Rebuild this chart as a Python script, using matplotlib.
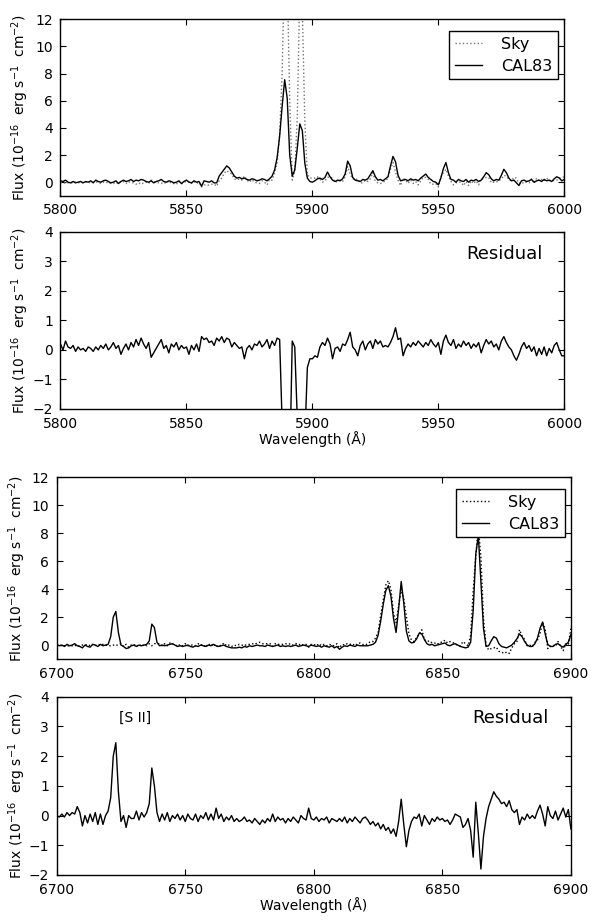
import numpy as np
import matplotlib.pyplot as plt

plt.rcParams['font.family'] = ['DejaVu Sans']
plt.rcParams['mathtext.fontset'] = 'dejavusans'

# wavelength grids (1 A sampling)
wl_na = np.arange(5800, 6001)
wl_s2 = np.arange(6700, 6901)

# Na D region, 5800-6000 A (1e-16 erg/s/cm2)
cal83_na = [
    0.10, 0.05, 0.15, 0.00, -0.05, 0.05, -0.05, 0.00, 0.05, -0.05,
    0.05, 0.00, 0.10, -0.05, 0.15, 0.05, 0.00, 0.10, 0.15, 0.05,
    -0.05, 0.00, 0.10, -0.10, 0.05, 0.15, 0.05, 0.10, 0.20, 0.05,
    0.15, 0.10, 0.20, 0.15, 0.05, 0.00, 0.10, -0.05, 0.05, 0.10,
    0.20, 0.05, 0.00, 0.10, 0.05, -0.05, 0.00, 0.10, -0.10, 0.05,
    0.15, 0.00, -0.05, 0.10, 0.00, 0.05, -0.30, 0.10, 0.05, 0.00,
    0.10, -0.05, -0.05, 0.45, 0.70, 0.95, 1.20, 1.05, 0.75, 0.45,
    0.30, 0.35, 0.25, 0.30, 0.20, 0.15, 0.25, 0.20, 0.10, 0.15,
    0.25, 0.20, 0.10, 0.25, 0.45, 0.90, 1.80, 3.40, 5.60, 7.55,
    6.20, 2.00, 0.45, 0.90, 2.50, 4.30, 3.80, 1.40, 0.30, 0.05,
    0.00, 0.10, 0.25, 0.30, 0.20, 0.35, 0.75, 0.40, 0.15, 0.05,
    0.15, 0.10, 0.25, 0.60, 1.55, 1.20, 0.35, 0.15, 0.10, 0.05,
    0.20, 0.15, 0.25, 0.55, 0.85, 0.40, 0.15, 0.20, 0.10, 0.25,
    0.40, 1.20, 1.90, 1.50, 0.50, 0.10, 0.15, 0.20, 0.10, 0.25,
    0.15, 0.20, 0.10, 0.30, 0.45, 0.60, 0.35, 0.20, 0.05, 0.00,
    -0.20, 0.30, 1.00, 1.45, 0.70, 0.20, 0.15, 0.00, 0.20, 0.10,
    0.05, 0.20, 0.00, 0.15, 0.10, 0.20, 0.05, 0.15, 0.40, 0.70,
    0.55, 0.25, 0.10, 0.20, 0.15, 0.50, 0.95, 0.70, 0.30, 0.10,
    0.15, -0.05, -0.25, 0.10, 0.15, 0.05, 0.10, 0.20, 0.00, 0.10,
    0.15, 0.05, 0.20, 0.10, 0.15, 0.05, 0.25, 0.40, 0.30, 0.10,
    0.20,
]
sky_na = [
    -0.05, 0.00, -0.10, -0.05, -0.05, -0.05, 0.00, -0.05, 0.00, -0.05,
    0.00, -0.05, 0.00, 0.00, 0.00, 0.00, -0.10, 0.00, -0.05, 0.00,
    -0.10, -0.10, 0.00, -0.10, 0.05, 0.05, -0.10, 0.05, -0.05, -0.05,
    -0.15, -0.05, -0.15, -0.05, 0.00, -0.10, 0.15, 0.05, 0.00, -0.05,
    -0.10, 0.00, -0.10, 0.10, -0.10, -0.10, -0.15, 0.05, -0.15, 0.00,
    0.05, 0.05, -0.10, 0.05, -0.10, 0.00, -0.35, -0.20, -0.25, -0.20,
    -0.15, -0.15, -0.30, 0.10, 0.30, 0.65, 0.85, 0.70, 0.60, 0.25,
    0.15, 0.25, 0.15, 0.45, 0.15, 0.00, 0.20, 0.00, -0.05, -0.10,
    0.10, 0.00, -0.20, 0.20, 0.15, 0.70, 1.40, 3.50, 8.10, 16.50,
    15.20, 6.00, 0.15, 0.80, 4.80, 14.30, 12.80, 4.40, 0.60, 0.30,
    0.30, 0.30, 0.40, 0.20, 0.00, 0.10, 0.35, 0.40, 0.30, 0.00,
    0.05, 0.15, 0.05, 0.40, 1.15, 0.60, 0.25, 0.15, 0.25, -0.05,
    -0.05, 0.15, 0.05, 0.25, 0.70, 0.05, -0.05, -0.10, 0.00, 0.10,
    0.30, 0.95, 1.45, 0.75, 0.15, -0.25, 0.30, 0.15, -0.10, 0.15,
    -0.10, 0.05, -0.20, 0.10, 0.35, 0.35, 0.20, -0.15, -0.15, -0.10,
    -0.35, 0.40, 0.70, 0.95, 0.45, 0.05, -0.20, -0.05, 0.00, 0.00,
    -0.25, 0.05, -0.25, 0.10, -0.10, 0.10, -0.20, 0.25, 0.25, 0.35,
    0.35, -0.05, 0.00, 0.00, 0.15, 0.20, 0.50, 0.45, 0.20, 0.10,
    0.35, 0.30, -0.10, 0.00, -0.10, 0.00, -0.05, 0.25, -0.10, 0.30,
    0.10, 0.20, 0.10, 0.30, 0.10, 0.15, 0.10, 0.15, 0.30, 0.30,
    0.40,
]
resid_na = [
    0.20, 0.00, 0.30, 0.10, 0.05, 0.15, -0.05, 0.10, 0.00, 0.05,
    -0.05, 0.10, 0.05, -0.05, 0.10, 0.00, 0.15, 0.05, 0.20, 0.00,
    0.10, 0.25, 0.05, 0.15, -0.15, 0.05, 0.20, 0.00, 0.25, 0.10,
    0.35, 0.15, 0.40, 0.20, 0.05, 0.25, -0.25, -0.10, 0.05, 0.20,
    0.35, 0.05, 0.15, -0.10, 0.20, 0.10, 0.25, 0.00, 0.15, 0.05,
    0.10, -0.15, 0.15, 0.00, 0.20, -0.05, 0.45, 0.35, 0.40, 0.25,
    0.30, 0.15, 0.40, 0.30, 0.45, 0.25, 0.40, 0.35, 0.10, 0.25,
    0.15, 0.05, 0.10, -0.30, 0.05, 0.15, 0.00, 0.20, 0.15, 0.30,
    0.10, 0.20, 0.35, 0.05, 0.30, 0.15, 0.40, 0.35, -2.50, -9.00,
    -9.00, -4.00, 0.30, 0.10, -2.30, -10.0, -9.00, -3.00, -0.60, -0.30,
    -0.30, -0.20, -0.25, 0.10, 0.25, 0.15, 0.40, 0.20, -0.30, 0.05,
    0.10, -0.05, 0.20, 0.15, 0.35, 0.60, 0.10, 0.00, -0.20, 0.15,
    0.30, 0.00, 0.20, 0.30, 0.05, 0.35, 0.20, 0.30, 0.10, 0.15,
    0.10, 0.25, 0.45, 0.75, 0.35, 0.40, -0.20, 0.05, 0.20, 0.10,
    0.25, 0.15, 0.30, 0.20, 0.10, 0.25, 0.15, 0.35, 0.20, 0.10,
    0.25, -0.15, 0.30, 0.50, 0.25, 0.15, 0.35, 0.05, 0.20, 0.10,
    0.30, 0.15, 0.25, 0.05, 0.20, 0.10, 0.25, -0.10, 0.15, 0.35,
    0.20, 0.30, 0.10, 0.20, 0.00, 0.30, 0.45, 0.25, 0.10, 0.00,
    -0.20, -0.35, -0.15, 0.10, 0.25, 0.05, 0.15, -0.05, 0.10, -0.20,
    0.05, -0.15, 0.10, -0.20, 0.05, -0.10, 0.15, 0.25, 0.00, -0.20,
    -0.20,
]

# [S II] region, 6700-6900 A
cal83_s2 = [
    0.05, -0.05, 0.00, -0.10, 0.05, -0.05, 0.00, 0.10, -0.05, -0.10,
    -0.20, 0.00, -0.10, -0.15, 0.05, 0.00, -0.10, 0.05, -0.05, 0.00,
    0.05, 0.60, 2.00, 2.40, 0.90, 0.00, -0.10, -0.25, -0.20, -0.05,
    0.00, -0.10, 0.00, -0.05, 0.00, 0.05, 0.30, 1.50, 1.25, 0.20,
    -0.05, 0.00, -0.05, 0.00, 0.05, 0.10, 0.00, -0.10, -0.05, -0.10,
    -0.05, 0.00, -0.10, -0.15, -0.05, -0.10, 0.00, -0.05, -0.10, 0.00,
    -0.05, 0.05, -0.05, -0.10, -0.05, 0.00, -0.10, -0.15, -0.20, -0.20,
    -0.20, -0.15, -0.20, -0.10, -0.15, -0.05, -0.10, -0.05, 0.00, -0.05,
    -0.05, -0.10, 0.00, -0.05, -0.10, -0.05, 0.00, -0.10, -0.05, -0.10,
    -0.05, -0.10, -0.05, 0.00, -0.10, -0.05, 0.00, -0.05, -0.10, 0.00,
    -0.05, -0.10, -0.05, -0.15, -0.05, -0.10, -0.15, -0.05, -0.20, -0.10,
    -0.30, -0.15, -0.05, -0.10, 0.00, -0.05, -0.10, 0.00, -0.05, -0.05,
    -0.05, -0.05, 0.00, 0.05, 0.20, 0.70, 1.70, 2.90, 3.90, 4.25,
    3.50, 1.90, 0.90, 2.60, 4.55, 3.00, 1.00, 0.30, 0.15, 0.20,
    0.45, 0.85, 0.80, 0.40, 0.10, 0.00, 0.05, -0.05, 0.00, 0.05,
    0.10, 0.15, 0.00, -0.05, 0.05, 0.10, 0.00, -0.10, -0.15, -0.20,
    -0.15, 0.20, 2.50, 6.50, 7.85, 4.50, 1.20, -0.10, -0.05, 0.30,
    0.60, 0.50, 0.10, -0.10, -0.15, -0.20, -0.10, 0.00, 0.20, 0.45,
    0.80, 0.60, 0.25, 0.00, -0.10, -0.10, 0.10, 0.50, 1.20, 1.65,
    0.80, 0.05, -0.10, -0.10, 0.05, 0.10, -0.05, -0.15, 0.05, 0.20,
    0.75,
]
sky_s2 = [
    0.00, 0.00, -0.05, -0.05, -0.05, -0.05, -0.05, 0.00, -0.10, -0.05,
    0.00, 0.00, 0.05, -0.05, 0.05, -0.05, 0.05, 0.00, 0.05, 0.00,
    -0.05, -0.05, 0.00, -0.05, 0.05, 0.10, -0.10, 0.05, -0.15, 0.00,
    0.05, -0.10, 0.05, -0.10, 0.05, -0.05, 0.10, -0.05, 0.10, 0.10,
    0.10, -0.05, 0.10, -0.05, 0.15, 0.05, 0.05, -0.10, 0.05, -0.05,
    0.10, -0.05, 0.00, 0.00, -0.05, 0.10, 0.00, 0.05, -0.15, 0.10,
    -0.05, 0.10, -0.15, 0.00, -0.05, 0.15, -0.05, 0.00, -0.10, 0.00,
    -0.05, 0.05, 0.00, -0.05, 0.05, 0.05, 0.10, 0.05, 0.15, 0.20,
    0.10, 0.10, 0.10, 0.10, -0.10, 0.10, 0.05, 0.05, 0.05, 0.10,
    0.05, 0.10, 0.00, 0.10, 0.10, -0.05, 0.05, 0.05, -0.15, 0.05,
    0.05, -0.05, 0.10, -0.05, 0.05, -0.05, 0.05, 0.00, -0.05, 0.10,
    -0.20, 0.05, 0.00, 0.10, 0.05, 0.10, -0.05, 0.10, 0.15, 0.05,
    0.00, 0.10, 0.25, 0.25, 0.50, 0.90, 2.10, 3.20, 4.30, 4.60,
    4.00, 2.30, 1.60, 2.80, 4.00, 3.30, 2.05, 0.80, 0.35, 0.25,
    0.55, 0.80, 1.10, 0.40, 0.25, 0.30, 0.15, 0.15, 0.05, 0.20,
    0.20, 0.35, 0.15, 0.25, 0.20, 0.05, 0.00, -0.05, 0.25, 0.10,
    -0.05, 0.70, 3.90, 6.35, 8.45, 6.30, 1.90, 0.00, -0.35, -0.25,
    -0.20, -0.15, -0.45, -0.50, -0.60, -0.50, -0.60, -0.20, 0.10, 0.25,
    1.10, 0.65, 0.40, -0.05, 0.00, -0.10, 0.20, 0.35, 0.85, 1.60,
    1.15, -0.25, -0.10, 0.00, -0.10, 0.25, -0.10, -0.40, 0.10, 0.00,
    1.20,
]
resid_s2 = [
    0.00, -0.05, 0.05, -0.05, 0.10, 0.00, 0.10, 0.05, 0.30, 0.10,
    -0.35, 0.00, -0.25, 0.05, -0.20, 0.10, -0.30, 0.05, -0.30, 0.00,
    0.15, 0.60, 2.00, 2.45, 0.80, -0.20, 0.00, -0.40, 0.00, -0.10,
    -0.10, 0.15, -0.15, 0.10, -0.05, 0.10, 0.40, 1.60, 1.00, 0.10,
    -0.20, 0.05, -0.15, 0.10, -0.20, 0.00, -0.10, 0.05, -0.15, 0.00,
    -0.20, 0.05, -0.10, -0.15, 0.05, -0.20, 0.00, -0.10, 0.10, -0.15,
    0.05, -0.15, 0.25, -0.10, 0.05, -0.20, -0.05, -0.15, 0.00, -0.20,
    -0.10, -0.20, -0.15, -0.05, -0.20, -0.15, -0.25, -0.10, -0.20, -0.30,
    -0.15, -0.25, -0.10, -0.20, 0.05, -0.20, -0.05, -0.15, -0.10, -0.25,
    -0.10, -0.20, -0.05, -0.15, -0.25, 0.00, -0.10, -0.15, 0.25, -0.10,
    -0.15, -0.05, -0.20, -0.10, -0.15, -0.05, -0.25, -0.10, -0.15, -0.20,
    -0.10, -0.20, -0.05, -0.25, -0.10, -0.20, -0.05, -0.15, -0.25, -0.10,
    -0.05, -0.15, -0.30, -0.20, -0.35, -0.25, -0.45, -0.30, -0.50, -0.40,
    -0.60, -0.45, -0.70, -0.20, 0.55, -0.30, -1.05, -0.50, -0.20, -0.05,
    -0.10, 0.05, -0.35, 0.00, -0.15, -0.30, -0.10, -0.20, -0.05, -0.15,
    -0.10, -0.20, -0.15, -0.30, -0.15, 0.05, 0.00, -0.05, -0.40, -0.30,
    -0.10, -0.50, -1.40, 0.45, -0.60, -1.80, -0.70, -0.10, 0.30, 0.55,
    0.80, 0.65, 0.55, 0.40, 0.45, 0.30, 0.50, 0.20, 0.10, 0.20,
    -0.30, -0.05, -0.15, 0.05, -0.10, 0.00, -0.10, 0.15, 0.35, 0.05,
    -0.35, 0.30, 0.00, -0.10, 0.15, -0.15, 0.05, 0.25, -0.05, 0.20,
    -0.45,
]

FLUX_LABEL = r'Flux ($10^{-16}$  erg s$^{-1}$  cm$^{-2}$)'


def style_axes(ax, xlim, ylim, yticks, label_x):
    ax.set_xlim(*xlim)
    ax.set_ylim(*ylim)
    ax.set_xticks(np.arange(xlim[0], xlim[1] + 1, 50))
    ax.set_yticks(yticks)
    ax.tick_params(direction='in', top=True, right=True, length=4,
                   width=0.8, labelsize=10, pad=5.5)
    for sp in ax.spines.values():
        sp.set_linewidth(1.0)
    ax.set_ylabel(FLUX_LABEL, fontsize=10)
    ax.yaxis.set_label_coords(label_x, 0.5)


def plot_spectrum(ax, wl, cal, sky, sky_color, xlim, label_x, leg_anchor):
    ax.plot(wl, sky, color=sky_color, linestyle=':', linewidth=1.0, label='Sky')
    ax.plot(wl, cal, color='black', linewidth=1.0, label='CAL83')
    style_axes(ax, xlim, (-1, 12), np.arange(0, 13, 2), label_x)
    leg = ax.legend(loc='upper right', bbox_to_anchor=leg_anchor,
                    borderaxespad=0, fontsize=11.5, fancybox=False,
                    framealpha=1, borderpad=0.35, labelspacing=0.45,
                    handlelength=1.7, handletextpad=1.2)
    leg.get_frame().set_edgecolor('black')
    leg.get_frame().set_linewidth(1.0)


def plot_residual(ax, wl, resid, xlim, label_x, text_y):
    ax.plot(wl, resid, color='black', linewidth=1.0)
    style_axes(ax, xlim, (-2, 4), np.arange(-2, 5, 1), label_x)
    ax.set_xlabel('Wavelength (Å)', fontsize=10, labelpad=0.5)
    ax.text(0.882, text_y, 'Residual', transform=ax.transAxes,
            ha='center', va='center', fontsize=13)


def main():
    fig = plt.figure(figsize=(6, 9.22), dpi=100)
    ax1 = fig.add_axes([0.1008, 0.7877, 0.8397, 0.1913])
    ax2 = fig.add_axes([0.1008, 0.5564, 0.8397, 0.1923])
    ax3 = fig.add_axes([0.0945, 0.2852, 0.8570, 0.1970])
    ax4 = fig.add_axes([0.0945, 0.0510, 0.8570, 0.1934])

    plot_spectrum(ax1, wl_na, cal83_na, sky_na, '0.45', (5800, 6000),
                  -0.058, (0.9875, 0.934))
    plot_residual(ax2, wl_na, resid_na, (5800, 6000), -0.058, 0.875)
    plot_spectrum(ax3, wl_s2, cal83_s2, sky_s2, 'black', (6700, 6900),
                  -0.056, (0.988, 0.936))
    plot_residual(ax4, wl_s2, resid_s2, (6700, 6900), -0.056, 0.88)
    ax4.text(6730.5, 3.3, '[S II]', ha='center', va='center', fontsize=10)

    fig.savefig('out.png', dpi=100)


if __name__ == '__main__':
    main()
